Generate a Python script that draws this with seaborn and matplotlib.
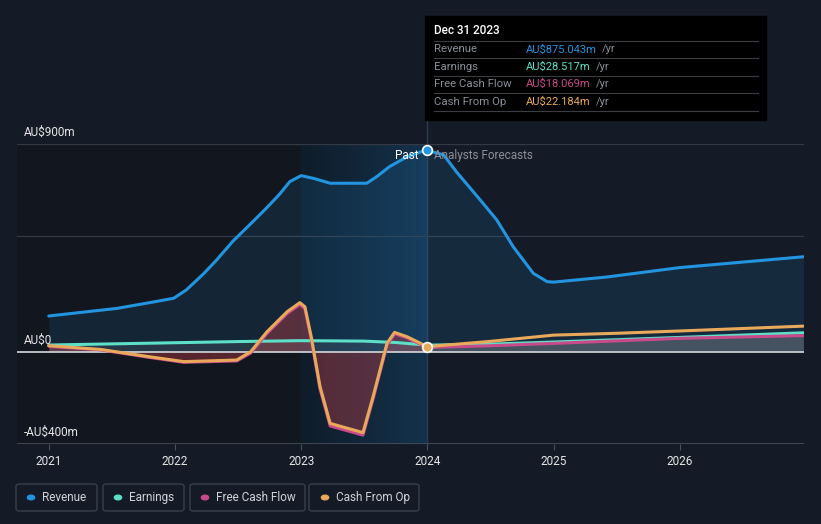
import numpy as np
import pandas as pd
import seaborn as sns
import matplotlib.pyplot as plt
from matplotlib.patches import Rectangle, FancyBboxPatch, Circle
from matplotlib.colors import LinearSegmentedColormap

# values in AU$m, x in fractional years
rev_x = [2021.0, 2021.54, 2021.8, 2021.99, 2022.09, 2022.23, 2022.33, 2022.46, 2022.6, 2022.73,
         2022.83, 2022.91, 2023.0, 2023.1, 2023.23, 2023.52, 2023.6, 2023.7, 2023.84, 2023.99,
         2024.13, 2024.23, 2024.42, 2024.55, 2024.68, 2024.84, 2024.95, 2025.0, 2025.42, 2026.0,
         2026.98]
rev_y = [155, 188, 213, 232, 268, 340, 398, 480, 555, 626,
         684, 738, 764, 752, 731, 731, 760, 803, 846, 875,
         854, 781, 658, 572, 456, 340, 304, 302, 324, 365,
         412]

cf_x = [2021.0, 2021.41, 2021.8, 2022.07, 2022.49, 2022.6, 2022.73, 2022.89, 2022.99, 2023.03,
        2023.08, 2023.15, 2023.23, 2023.49, 2023.57, 2023.68, 2023.74, 2023.84, 2024.0,
        2024.5, 2025.0, 2025.5, 2026.0, 2026.98]
cfo_y = [26, 10, -22, -43, -36, 0, 87, 174, 213, 195,
         65, -152, -311, -351, -195, 36, 84, 65, 22,
         45, 72, 80, 90, 111]
fcf_y = [24, 8, -25, -46, -40, -6, 80, 166, 205, 186,
         56, -162, -322, -362, -206, 28, 78, 60, 18,
         26, 36, 47, 58, 70]

earn_x = [2021.0, 2022.0, 2022.5, 2023.0, 2023.5, 2023.75, 2024.0, 2024.5, 2025.0, 2026.0, 2026.98]
earn_y = [29, 39, 44, 48, 46, 40, 28.5, 33, 42, 62, 82]

years = [2021, 2022, 2023, 2024, 2025, 2026]
series = ['Revenue', 'Earnings', 'Free Cash Flow', 'Cash From Op']
colors = ['#2394df', '#5ee0c8', '#c94a8a', '#e8a95b']
tip_values = ['AU$875.043m', 'AU$28.517m', 'AU$18.069m', 'AU$22.184m']

bg = '#151b26'
W, H = 821, 524

plt.rcParams['font.family'] = ['Roboto', 'DejaVu Sans']
fig = plt.figure(figsize=(W / 100, H / 100), dpi=100, facecolor=bg)


def fx(px):
    return px / W


def fy(py):
    return 1 - py / H


ax = fig.add_axes([fx(16.7), fy(443.9), fx(804) - fx(16.7), fy(144.3) - fy(443.9)])
ax.set_facecolor(bg)
ax.set_xlim(2020.746, 2026.985)
ax.set_ylim(-400, 900)

# background bands
ax.axvspan(2020.746, 2023, color='#12161e', zorder=0, lw=0)
grad = LinearSegmentedColormap.from_list('g', ['#0f1c29', '#14324c'])
ax.imshow(np.linspace(0, 1, 256).reshape(1, -1), cmap=grad, aspect='auto',
          extent=[2023, 2024, -400, 900], zorder=0.5)

for g in [900, 500]:
    ax.axhline(g, color='#343a45', lw=0.9, zorder=1)
ax.axhline(-400, color='#4a505b', lw=1.2, zorder=1)

df_rev = pd.DataFrame({'x': rev_x, 'y': rev_y})
df_cf = pd.DataFrame({'x': cf_x, 'cfo': cfo_y, 'fcf': fcf_y})
df_earn = pd.DataFrame({'x': earn_x, 'y': earn_y})

# fills
ax.fill_between(df_rev['x'], 0, df_rev['y'], color='#2394df', alpha=0.13, lw=0, zorder=2)
past = df_cf[df_cf['x'] <= 2024]
ax.fill_between(past['x'], 0, past['cfo'], color='#c8404a', alpha=0.38, lw=0, zorder=2)
fut = df_cf[df_cf['x'] >= 2024]
ax.fill_between(fut['x'], 0, fut['fcf'], color='#9a9ca4', alpha=0.25, lw=0, zorder=2)
ax.fill_between(df_earn['x'], 0, df_earn['y'], color='#b0b4b8', alpha=0.12, lw=0, zorder=2)

ax.axhline(0, color='#d5d8dc', lw=1.2, zorder=3)

kw = dict(lw=2.2, ax=ax, solid_joinstyle='round', solid_capstyle='round')
sns.lineplot(data=df_rev, x='x', y='y', color=colors[0], zorder=5, **kw)
sns.lineplot(data=df_earn, x='x', y='y', color=colors[1], zorder=4, **kw)
sns.lineplot(data=df_cf, x='x', y='fcf', color=colors[2], zorder=4, **kw)
sns.lineplot(data=df_cf, x='x', y='cfo', color=colors[3], zorder=4.5, **kw)

ax.plot([2024], [875], 'o', ms=7, color=colors[0], mec='white', mew=1.2, zorder=7, clip_on=False)
ax.plot([2024], [22], 'o', ms=7, color=colors[3], mec='white', mew=1.2, zorder=7, clip_on=False)

# divider at 2024 up to the tooltip
ax.plot([2024, 2024], [-400, 1005], color='#2b3d52', lw=1, zorder=1, clip_on=False)

ax.set_xticks(years)
ax.set_xticklabels([str(y) for y in years], color='#e6e6e6', fontsize=8.5)
ax.tick_params(axis='x', length=4, color='#4a505b', pad=4)
ax.set_yticks([])
ax.set_xlabel('')
ax.set_ylabel('')
for s in ax.spines.values():
    s.set_visible(False)

# y labels
for txt, py in [('AU$900m', 132), ('AU$0', 340), ('-AU$400m', 432)]:
    fig.text(fx(24), fy(py), txt, color='#e6e6e6', fontsize=8.5, va='center', ha='left')

fig.text(fx(418), fy(156), 'Past', color='white', fontsize=8.5, va='center', ha='right')
fig.text(fx(434), fy(156), 'Analysts Forecasts', color='#8a8f98', fontsize=8.5, va='center', ha='left')

# tooltip
fig.patches.append(Rectangle((fx(425), fy(120)), fx(766) - fx(425), fy(16) - fy(120),
                             transform=fig.transFigure, color='black', zorder=10))
fig.text(fx(434), fy(31), 'Dec 31 2023', color='white', fontsize=8.5, fontweight='medium',
         va='center', ha='left', zorder=11)
for sy in [41.3, 58.3, 76, 93.3, 111]:
    fig.add_artist(plt.Line2D([fx(434), fx(758)], [fy(sy), fy(sy)], color='#3a3d42', lw=0.8, zorder=11))
renderer = fig.canvas.get_renderer()
for i, (name, val) in enumerate(zip(series, tip_values)):
    ry = 49.5 + i * 17.4
    fig.text(fx(434), fy(ry), name, color='#8a8f98', fontsize=8.2, va='center', ha='left', zorder=11)
    t = fig.text(fx(526), fy(ry), val, color=colors[i], fontsize=8.0, va='center', ha='left', zorder=11)
    x_end = t.get_window_extent(renderer).x1
    fig.text(fx(x_end + 5), fy(ry), '/yr', color='#8a8f98', fontsize=8.0,
             va='center', ha='left', zorder=11)

# legend boxes
boxes = [(16, 97), (103, 184), (190, 305), (309, 419)]
dots = [31, 118, 205, 325]
for i, name in enumerate(series):
    x0, x1 = boxes[i]
    fig.patches.append(FancyBboxPatch((fx(x0), fy(511)), fx(x1) - fx(x0), fy(484) - fy(511),
                                      boxstyle='round,pad=0,rounding_size=0.004',
                                      transform=fig.transFigure, facecolor=bg,
                                      edgecolor='#3a404b', lw=1))
    fig.patches.append(Circle((fx(dots[i]), fy(497.5)), 3.6 / W, transform=fig.transFigure,
                              color=colors[i]))
    fig.text(fx(dots[i] + 11), fy(497.5), name, color='#d0d3d8', fontsize=8.5,
             va='center', ha='left')

plt.savefig('out.png', dpi=100, facecolor=bg)
